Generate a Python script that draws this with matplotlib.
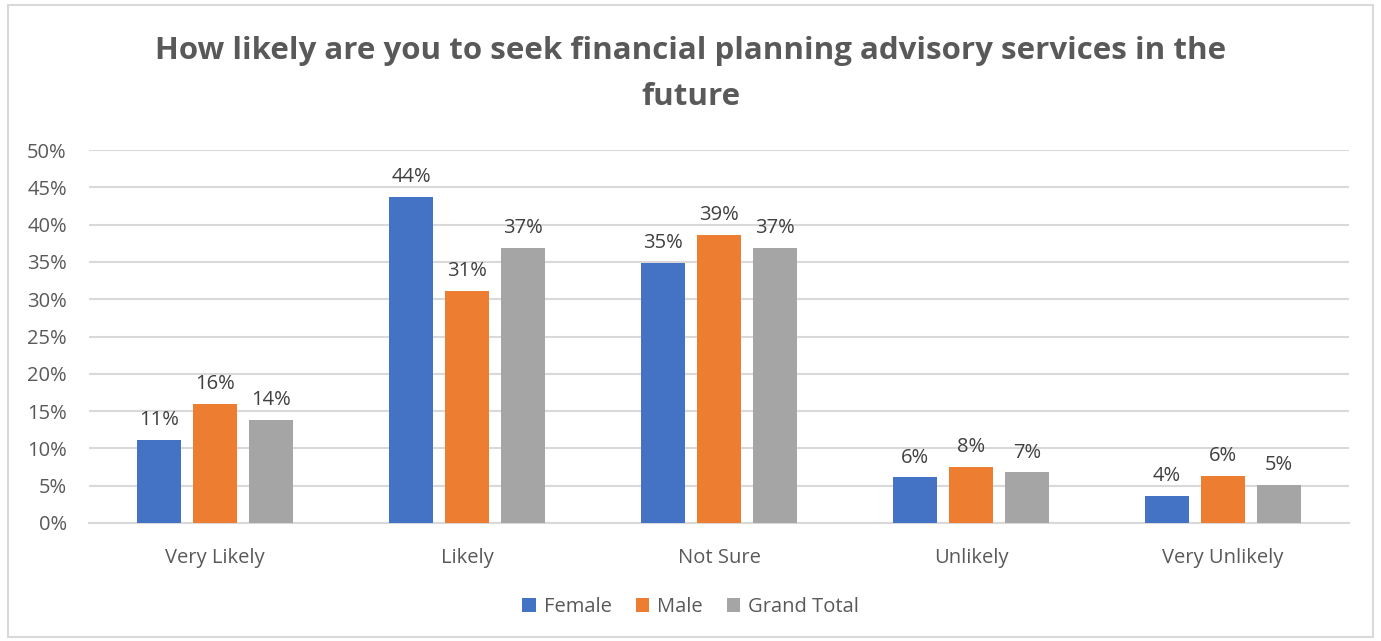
import matplotlib.pyplot as plt
import numpy as np
from matplotlib.patches import Rectangle

# survey answers, share of respondents (%)
categories = ['Very Likely', 'Likely', 'Not Sure', 'Unlikely', 'Very Unlikely']
female = [11.1, 43.7, 34.9, 6.1, 3.6]
male = [16.0, 31.1, 38.6, 7.5, 6.3]
grand_total = [13.8, 36.9, 36.9, 6.8, 5.1]
series_names = ['Female', 'Male', 'Grand Total']
yticks = [0, 5, 10, 15, 20, 25, 30, 35, 40, 45, 50]

cols = ['#4472C4', '#ED7D31', '#A5A5A5']
txtcol = '#595959'
fontname = 'Open Sans'
txtsize = 14.5

plt.rcParams['font.family'] = [fontname, 'DejaVu Sans']

fig = plt.figure(figsize=(13.81, 6.41), dpi=100)
ax = fig.add_axes([89/1381, 1-523/641, (1349-89)/1381, (523-150)/641])

x = np.arange(len(categories))
width = 0.175
step = 0.222
for i, (vals, name) in enumerate(zip([female, male, grand_total], series_names)):
	pos = x + (i-1)*step
	ax.bar(pos, vals, width=width, color=cols[i], label=name, zorder=3)
	for p, v in zip(pos, vals):
		ax.text(p, v + 1.3, '{:.0f}%'.format(v), ha='center', va='bottom',
			fontsize=txtsize, color='#404040')

ax.set_xlim(-0.5, len(categories)-0.5)
ax.set_ylim(0, 50)
ax.set_yticks(yticks)
ax.set_yticklabels(['{}%'.format(t) for t in yticks])
ax.set_xticks(x)
ax.set_xticklabels(categories)
ax.yaxis.grid(True, color='#D9D9D9', linewidth=1.5, zorder=0)
ax.set_axisbelow(True)
for s in ['top', 'right', 'left']:
	ax.spines[s].set_visible(False)
ax.spines['bottom'].set_color('#D9D9D9')
ax.spines['bottom'].set_linewidth(1.5)
ax.tick_params(axis='both', length=0, labelsize=txtsize, colors=txtcol)
ax.tick_params(axis='y', pad=16)
ax.tick_params(axis='x', pad=18)

fig.text(0.5, 1-51/641, 'How likely are you to seek financial planning advisory services in the',
	ha='center', va='center', fontsize=22.5, fontweight='bold', color=txtcol)
fig.text(0.5, 1-97/641, 'future', ha='center', va='center', fontsize=22.5,
	fontweight='bold', color=txtcol)

fig.legend(loc='center', bbox_to_anchor=(0.5, 1-607/641), ncol=3, frameon=False,
	fontsize=txtsize, handlelength=0.65, handleheight=0.65, handletextpad=0.4,
	columnspacing=1.2, labelcolor=txtcol)

# outer chart frame
fig.patches.append(Rectangle((8/1381, 4/641), 1365/1381, 632/641, transform=fig.transFigure,
	fill=False, edgecolor='#D9D9D9', linewidth=1.5))

fig.savefig('out.png', dpi=100)
